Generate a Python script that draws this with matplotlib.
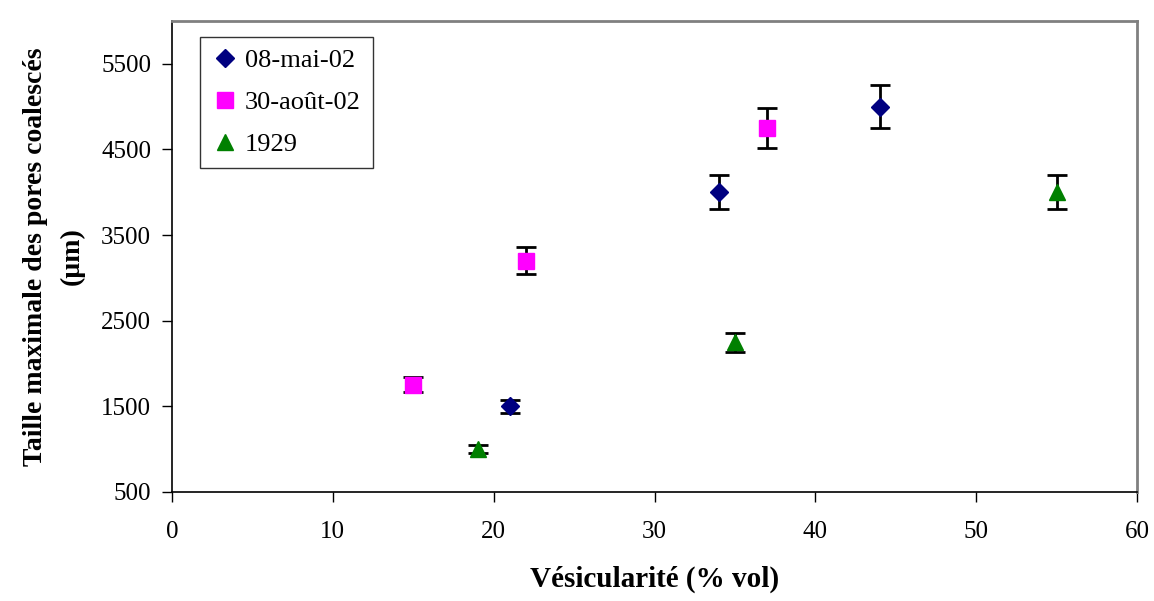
import matplotlib.pyplot as plt

plt.rcParams.update({
    "font.family": ["Liberation Serif", "DejaVu Serif"],
    "font.size": 18,
})

# data
mai_x = [21, 34, 44]
mai_y = [1500, 4000, 5000]
aout_x = [15, 22, 37]
aout_y = [1750, 3200, 4750]
y1929_x = [19, 35, 55]
y1929_y = [1000, 2250, 4000]
err_frac = 0.05  # 5 % error bars

series = [
    ("08-mai-02", mai_x, mai_y, "D", "#000080", 9),
    ("30-août-02", aout_x, aout_y, "s", "#FF00FF", 11),
    ("1929", y1929_x, y1929_y, "^", "#008000", 11),
]

fig = plt.figure(figsize=(11.54, 6.01), dpi=100)
ax = fig.add_axes([172 / 1154, 1 - 492 / 601, (1137 - 172) / 1154, (492 - 21) / 601])

for label, xs, ys, mk, col, ms in series:
    ax.errorbar(xs, ys, yerr=[v * err_frac for v in ys], fmt="none",
                ecolor="black", elinewidth=2, capsize=7, capthick=2, zorder=2)
    ax.plot(xs, ys, linestyle="none", marker=mk, color=col, markersize=ms,
            label=label, zorder=3)

ax.set_xlim(0, 60)
ax.set_ylim(500, 6000)
ax.set_xticks(range(0, 61, 10))
ax.set_yticks(range(500, 6000, 1000))
ax.tick_params(direction="out", length=7, width=1, labelsize=18)
ax.tick_params(axis="x", pad=14)
ax.tick_params(axis="y", pad=8)

for s in ("top", "right"):
    ax.spines[s].set_color("#808080")
    ax.spines[s].set_linewidth(2)
for s in ("left", "bottom"):
    ax.spines[s].set_linewidth(1.2)

ax.set_xlabel("Vésicularité (% vol)", fontsize=21, fontweight="bold", labelpad=16)
ax.set_ylabel("Taille maximale des pores coalescés\n(µm)", fontsize=20,
              fontweight="bold", labelpad=12, linespacing=1.6)

leg = ax.legend(loc="upper left", bbox_to_anchor=(0.029, 0.966), frameon=True,
                fancybox=False, edgecolor="black", handletextpad=0.25,
                handlelength=1.0, labelspacing=0.7, borderpad=0.45,
                borderaxespad=0, fontsize=19)
leg.get_frame().set_linewidth(1)

fig.savefig("out.png", dpi=100)
